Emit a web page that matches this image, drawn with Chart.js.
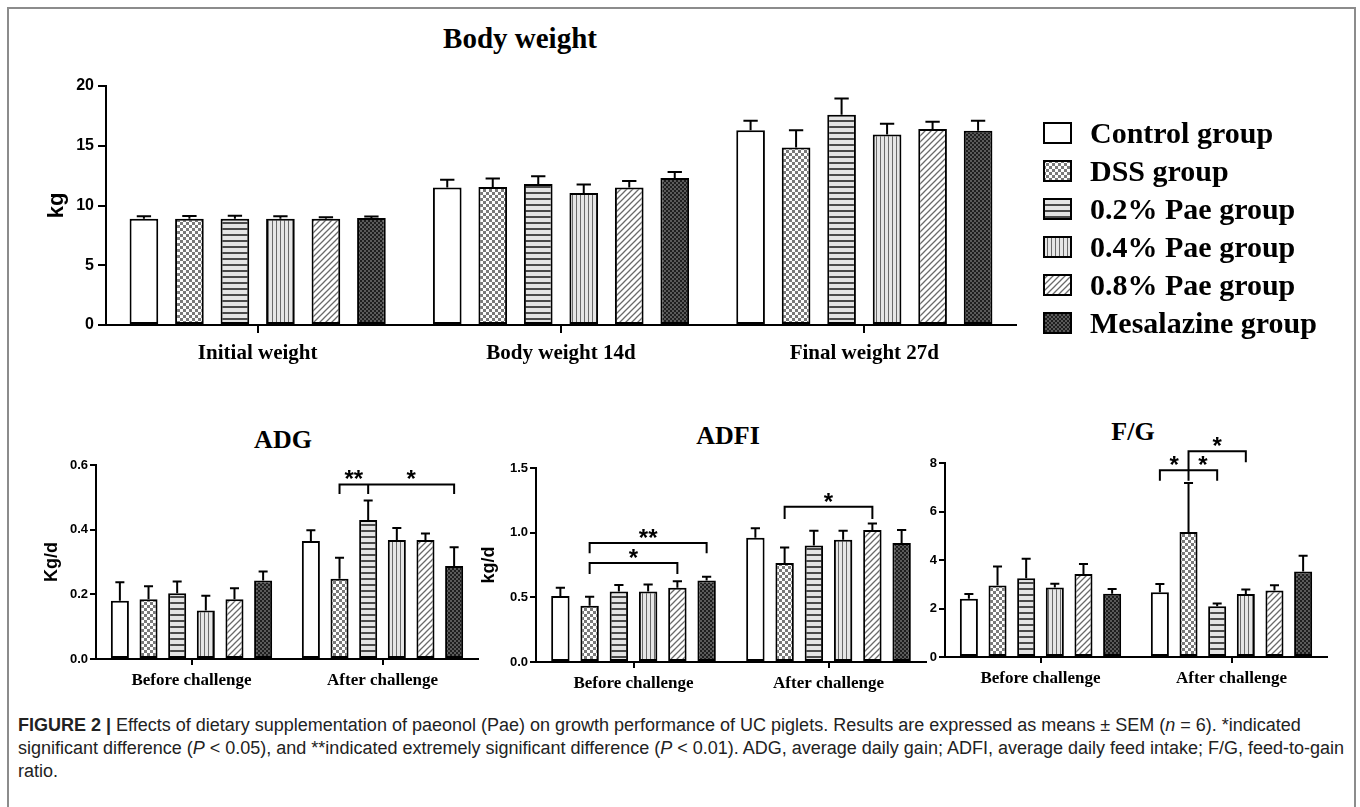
<!DOCTYPE html>
<html>
<head>
<meta charset="utf-8">
<script src="https://cdn.jsdelivr.net/npm/chart.js@4.4.0/dist/chart.umd.min.js"></script>
<style>
  body { margin: 0; width: 1360px; height: 807px; overflow: hidden; position: relative; background: #fff; }
  .frame { position: absolute; left: 7px; top: 7px; width: 1345px; height: 830px; border: 2px solid #8c8c8c; border-bottom: none; }
  canvas { position: absolute; }
  .ttl { position: absolute; transform: translate(-50%, -50%); font: bold 26px 'Liberation Serif', serif; color: #000; white-space: nowrap; }
  .legend { position: absolute; left: 1043px; top: 114px; }
  .legend .row { height: 38px; display: flex; align-items: center; font: bold 30px 'Liberation Serif', serif; color: #000; white-space: nowrap; }
  .legend canvas { position: static; margin-right: 18px; }
  .caption { position: absolute; left: 18px; top: 714px; width: 1330px; font: 18px 'Liberation Sans', sans-serif; line-height: 23px; color: #222; white-space: nowrap; }
</style>
</head>
<body>
<div class="frame"></div>

<div class="ttl" style="left:520px; top:38px; font-size:29px;">Body weight</div>
<div class="ttl" style="left:283px; top:440px;">ADG</div>
<div class="ttl" style="left:728px; top:436px;">ADFI</div>
<div class="ttl" style="left:1133px; top:432px;">F/G</div>

<canvas id="bw" width="1030" height="315" style="left:0; top:60px;"></canvas>
<canvas id="adg" width="500" height="270" style="left:0; top:440px;"></canvas>
<canvas id="adfi" width="470" height="270" style="left:470px; top:440px;"></canvas>
<canvas id="fg" width="450" height="290" style="left:900px; top:420px;"></canvas>

<div class="legend" id="legend"></div>

<div class="caption"><b>FIGURE 2 |</b> Effects of dietary supplementation of paeonol (Pae) on growth performance of UC piglets. Results are expressed as means ± SEM (<i>n</i> = 6). *indicated<br>significant difference (<i>P</i> &lt; 0.05), and **indicated extremely significant difference (<i>P</i> &lt; 0.01). ADG, average daily gain; ADFI, average daily feed intake; F/G, feed-to-gain<br>ratio.</div>

<script>
// groups (one dataset each)
const groups = ['Control group', 'DSS group', '0.2% Pae group', '0.4% Pae group', '0.8% Pae group', 'Mesalazine group'];

// Body weight (kg)
const bwCategories = ['Initial weight', 'Body weight 14d', 'Final weight 27d'];
const bwMean = [
  [8.9, 11.5, 16.3],
  [8.9, 11.55, 14.85],
  [8.9, 11.8, 17.6],
  [8.9, 11.05, 15.95],
  [8.9, 11.5, 16.4],
  [8.95, 12.3, 16.25]
];
const bwSem = [
  [0.2, 0.65, 0.8],
  [0.22, 0.7, 1.45],
  [0.25, 0.65, 1.35],
  [0.2, 0.7, 0.9],
  [0.12, 0.55, 0.6],
  [0.12, 0.5, 0.85]
];
const bwTicks = [0, 5, 10, 15, 20];

// ADG, ADFI, F/G
const challengeCategories = ['Before challenge', 'After challenge'];
const adgMean = [[0.18, 0.365], [0.185, 0.248], [0.203, 0.43], [0.15, 0.368], [0.185, 0.368], [0.243, 0.288]];
const adgSem = [[0.057, 0.033], [0.04, 0.065], [0.037, 0.06], [0.046, 0.037], [0.034, 0.02], [0.028, 0.058]];
const adgTicks = [0, 0.2, 0.4, 0.6];

const adfiMean = [[0.51, 0.96], [0.435, 0.765], [0.545, 0.9], [0.545, 0.945], [0.575, 1.02], [0.63, 0.92]];
const adfiSem = [[0.065, 0.075], [0.07, 0.12], [0.05, 0.115], [0.055, 0.07], [0.05, 0.05], [0.03, 0.1]];
const adfiTicks = [0, 0.5, 1.0, 1.5];

const fgMean = [[2.4, 2.67], [2.95, 5.15], [3.25, 2.09], [2.87, 2.6], [3.42, 2.74], [2.61, 3.53]];
const fgSem = [[0.2, 0.34], [0.78, 2.03], [0.8, 0.12], [0.15, 0.18], [0.42, 0.22], [0.19, 0.65]];
const fgTicks = [0, 2, 4, 6, 8];

// significance brackets: category, first bar, last bar, height, drop of each end, middle ticks, stars
const adgBrackets = [
  { cat: 1, from: 1, to: 5, y: 0.54, dropL: 0.51, dropR: 0.51, mids: [2], labels: [['**', 1, 2], ['*', 2, 5]] }
];
const adfiBrackets = [
  { cat: 0, from: 1, to: 5, y: 0.92, dropL: 0.84, dropR: 0.84, mids: [], labels: [['**', 1, 5]] },
  { cat: 0, from: 1, to: 4, y: 0.765, dropL: 0.68, dropR: 0.68, mids: [], labels: [['*', 1, 4]] },
  { cat: 1, from: 1, to: 4, y: 1.2, dropL: 1.105, dropR: 1.105, mids: [], labels: [['*', 1, 4]] }
];
const fgBrackets = [
  { cat: 1, from: 0, to: 2, y: 7.7, dropL: 7.27, dropR: 7.27, mids: [1], labels: [['*', 0, 1], ['*', 1, 2]] },
  { cat: 1, from: 1, to: 3, y: 8.48, dropL: 7.7, dropR: 8.03, mids: [], labels: [['*', 1, 3]] }
];

// bar fill patterns
function makeFill(kind) {
  if (kind === 'white') return '#ffffff';
  const c = document.createElement('canvas');
  const g = c.getContext('2d');
  if (kind === 'check') {
    c.width = c.height = 6;
    g.fillStyle = '#ffffff'; g.fillRect(0, 0, 6, 6);
    g.fillStyle = '#7a7a7a'; g.fillRect(0, 0, 3, 3); g.fillRect(3, 3, 3, 3);
  } else if (kind === 'hlines') {
    c.width = 4; c.height = 6;
    g.fillStyle = '#e4e4e4'; g.fillRect(0, 0, 4, 6);
    g.fillStyle = '#4a4a4a'; g.fillRect(0, 0, 4, 2);
  } else if (kind === 'vlines') {
    c.width = 4; c.height = 4;
    g.fillStyle = '#e6e6e6'; g.fillRect(0, 0, 4, 4);
    g.fillStyle = '#6a6a6a'; g.fillRect(0, 0, 1, 4);
  } else if (kind === 'diag') {
    c.width = c.height = 6;
    g.fillStyle = '#ffffff'; g.fillRect(0, 0, 6, 6);
    g.strokeStyle = '#6a6a6a'; g.lineWidth = 1.3;
    g.beginPath();
    g.moveTo(0, 6); g.lineTo(6, 0);
    g.moveTo(-1, 1); g.lineTo(1, -1);
    g.moveTo(5, 7); g.lineTo(7, 5);
    g.stroke();
  } else if (kind === 'darkcheck') {
    c.width = c.height = 4;
    g.fillStyle = '#5a5a5a'; g.fillRect(0, 0, 4, 4);
    g.fillStyle = '#1e1e1e'; g.fillRect(0, 0, 2, 2); g.fillRect(2, 2, 2, 2);
  }
  return g.createPattern(c, 'repeat');
}
const fills = ['white', 'check', 'hlines', 'vlines', 'diag', 'darkcheck'].map(makeFill);

// mean + SEM error bars (upper only)
const errorBarPlugin = {
  id: 'errorBars',
  afterDatasetsDraw(chart) {
    const ctx = chart.ctx;
    const y = chart.scales.y;
    ctx.save();
    ctx.strokeStyle = '#000';
    ctx.lineWidth = 2;
    chart.data.datasets.forEach((ds, i) => {
      chart.getDatasetMeta(i).data.forEach((bar, j) => {
        const top = y.getPixelForValue(ds.data[j] + ds.sem[j]);
        const half = bar.width * 0.25;
        ctx.beginPath();
        ctx.moveTo(bar.x, bar.y);
        ctx.lineTo(bar.x, top);
        ctx.moveTo(bar.x - half, top);
        ctx.lineTo(bar.x + half, top);
        ctx.stroke();
      });
    });
    ctx.restore();
  }
};

function bracketPlugin(specs) {
  return {
    id: 'brackets',
    afterDatasetsDraw(chart) {
      const ctx = chart.ctx;
      const y = chart.scales.y;
      const bx = (ds, cat) => chart.getDatasetMeta(ds).data[cat].x;
      ctx.save();
      ctx.strokeStyle = '#000';
      ctx.lineWidth = 2;
      ctx.fillStyle = '#000';
      ctx.font = 'bold 24px "Liberation Sans", Arial, sans-serif';
      ctx.textAlign = 'center';
      ctx.textBaseline = 'alphabetic';
      specs.forEach(b => {
        const yl = y.getPixelForValue(b.y);
        ctx.beginPath();
        ctx.moveTo(bx(b.from, b.cat), y.getPixelForValue(b.dropL));
        ctx.lineTo(bx(b.from, b.cat), yl);
        ctx.lineTo(bx(b.to, b.cat), yl);
        ctx.lineTo(bx(b.to, b.cat), y.getPixelForValue(b.dropR));
        b.mids.forEach(m => {
          ctx.moveTo(bx(m, b.cat), yl);
          ctx.lineTo(bx(m, b.cat), y.getPixelForValue(b.dropR));
        });
        ctx.stroke();
        b.labels.forEach(([txt, a, c]) => {
          ctx.fillText(txt, (bx(a, b.cat) + bx(c, b.cat)) / 2, yl + 3);
        });
      });
      ctx.restore();
    }
  };
}

function buildChart(id, categories, means, sems, ticks, cfg) {
  const datasets = groups.map((g, i) => ({
    label: g,
    data: means[i],
    sem: sems[i],
    backgroundColor: fills[i],
    borderColor: '#000',
    borderWidth: 2,
    borderSkipped: false,
    barPercentage: 0.63,
    categoryPercentage: 0.9
  }));
  const plugins = [errorBarPlugin];
  if (cfg.brackets) plugins.push(bracketPlugin(cfg.brackets));
  return new Chart(document.getElementById(id), {
    type: 'bar',
    data: { labels: categories, datasets },
    options: {
      responsive: false,
      animation: false,
      events: [],
      layout: { padding: cfg.pad },
      plugins: { legend: { display: false }, tooltip: { enabled: false }, title: { display: false } },
      scales: {
        x: {
          offset: true,
          grid: { offset: false, drawOnChartArea: false, drawTicks: true, tickLength: cfg.tickLen, color: '#000', lineWidth: 2 },
          border: { display: true, color: '#000', width: 2 },
          ticks: { color: '#000', padding: cfg.xPad, font: { family: 'Liberation Serif', weight: 'bold', size: cfg.xFont } },
          afterFit: s => { s.height = cfg.xHeight; }
        },
        y: {
          min: ticks[0],
          max: ticks[ticks.length - 1],
          grid: { drawOnChartArea: false, drawTicks: true, tickLength: cfg.tickLen, color: '#000', lineWidth: 2 },
          border: { display: true, color: '#000', width: 2 },
          ticks: {
            stepSize: ticks[1] - ticks[0],
            color: '#000',
            padding: cfg.yPad,
            font: { family: 'Liberation Sans', weight: 'bold', size: cfg.yFont },
            callback: v => v.toFixed(cfg.decimals)
          },
          title: {
            display: !!cfg.yTitle,
            text: cfg.yTitle,
            color: '#000',
            font: { family: 'Liberation Sans', weight: 'bold', size: cfg.yTitleFont }
          },
          afterFit: s => { s.width = cfg.yWidth; }
        }
      }
    },
    plugins
  });
}

buildChart('bw', bwCategories, bwMean, bwSem, bwTicks, {
  pad: { top: 26, left: 40, right: 14, bottom: 0 }, yWidth: 66, xHeight: 50,
  tickLen: 8, xPad: 8, yPad: 4, xFont: 21, yFont: 16, decimals: 0,
  yTitle: 'kg', yTitleFont: 22
});
buildChart('adg', challengeCategories, adgMean, adgSem, adgTicks, {
  pad: { top: 25, left: 37, right: 22, bottom: 0 }, yWidth: 59, xHeight: 51,
  tickLen: 6, xPad: 5, yPad: 2, xFont: 17, yFont: 13, decimals: 1,
  yTitle: 'Kg/d', yTitleFont: 18, brackets: adgBrackets
});
buildChart('adfi', challengeCategories, adfiMean, adfiSem, adfiTicks, {
  pad: { top: 28, left: 4, right: 14, bottom: 0 }, yWidth: 62, xHeight: 48,
  tickLen: 6, xPad: 5, yPad: 2, xFont: 17, yFont: 13, decimals: 1,
  yTitle: 'kg/d', yTitleFont: 18, brackets: adfiBrackets
});
buildChart('fg', challengeCategories, fgMean, fgSem, fgTicks, {
  pad: { top: 43, left: 0, right: 23, bottom: 0 }, yWidth: 45, xHeight: 53,
  tickLen: 6, xPad: 5, yPad: 2, xFont: 17, yFont: 13, decimals: 0,
  brackets: fgBrackets
});

// legend with the same fills as the bars
const legend = document.getElementById('legend');
groups.forEach((g, i) => {
  const row = document.createElement('div');
  row.className = 'row';
  const sw = document.createElement('canvas');
  sw.width = 29; sw.height = 22;
  const c = sw.getContext('2d');
  c.fillStyle = fills[i];
  c.fillRect(0, 0, 29, 22);
  c.strokeStyle = '#000';
  c.lineWidth = 2;
  c.strokeRect(1, 1, 27, 20);
  row.appendChild(sw);
  row.appendChild(document.createTextNode(g));
  legend.appendChild(row);
});
</script>
</body>
</html>
